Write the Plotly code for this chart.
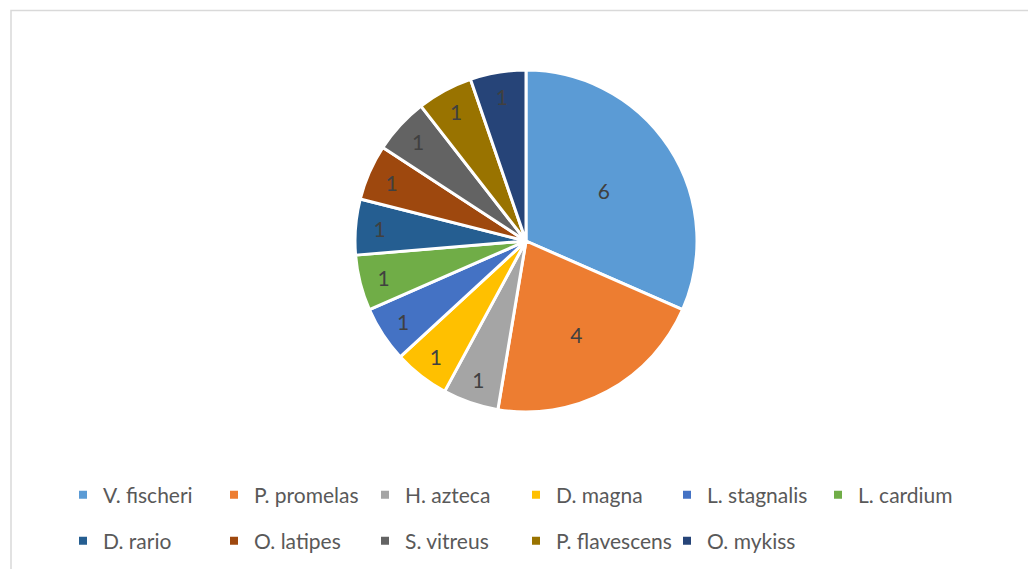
import plotly.graph_objects as go

# Species counts shown in the pie
species = ["V. fischeri", "P. promelas", "H. azteca", "D. magna", "L. stagnalis",
           "L. cardium", "D. rario", "O. latipes", "S. vitreus", "P. flavescens", "O. mykiss"]
counts = [6, 4, 1, 1, 1, 1, 1, 1, 1, 1, 1]
colors = ["#5B9BD5", "#ED7D31", "#A5A5A5", "#FFC000", "#4472C4", "#70AD47",
          "#255E91", "#9E480E", "#636363", "#997300", "#264478"]

W, H = 1028, 569
ML, MR, MT, MB = 24, 0, 70, 157
pw, ph = W - ML - MR, H - MT - MB

def px_x(x):
    return (x - ML) / pw

def px_y(y):
    return 1 - (y - MT) / ph

FONT = "Lato"

fig = go.Figure()
fig.add_trace(go.Pie(
    labels=species, values=counts, sort=False, direction="clockwise", rotation=0,
    marker=dict(colors=colors, line=dict(color="white", width=3)),
    textinfo="value", textposition="inside", insidetextorientation="horizontal",
    textfont=dict(family=FONT, size=21, color="#404040"),
    showlegend=False, hoverinfo="label+value",
))

# Legend entries as square markers, split across two rows
for i, (name, c) in enumerate(zip(species, colors)):
    fig.add_trace(go.Scatter(
        x=[None], y=[None], mode="markers", name=name,
        marker=dict(symbol="square", size=8, color=c),
        legend="legend" if i < 6 else "legend2",
    ))

leg_common = dict(
    orientation="h", xanchor="left", yanchor="middle",
    entrywidth=106, entrywidthmode="pixels",
    font=dict(family=FONT, size=21, color="#595959"),
    bgcolor="rgba(0,0,0,0)", itemwidth=30,
)

fig.update_layout(
    width=W, height=H,
    margin=dict(l=ML, r=MR, t=MT, b=MB),
    paper_bgcolor="white", plot_bgcolor="white",
    xaxis=dict(visible=False), yaxis=dict(visible=False),
    legend=dict(x=px_x(63), y=px_y(495), **leg_common),
    legend2=dict(x=px_x(63), y=px_y(541), **leg_common),
    shapes=[dict(type="rect", xref="paper", yref="paper",
                 x0=px_x(11), x1=px_x(1040), y0=px_y(580), y1=px_y(10.5),
                 line=dict(color="#D9D9D9", width=1.5), layer="below")],
)

fig.write_html("out.html")
